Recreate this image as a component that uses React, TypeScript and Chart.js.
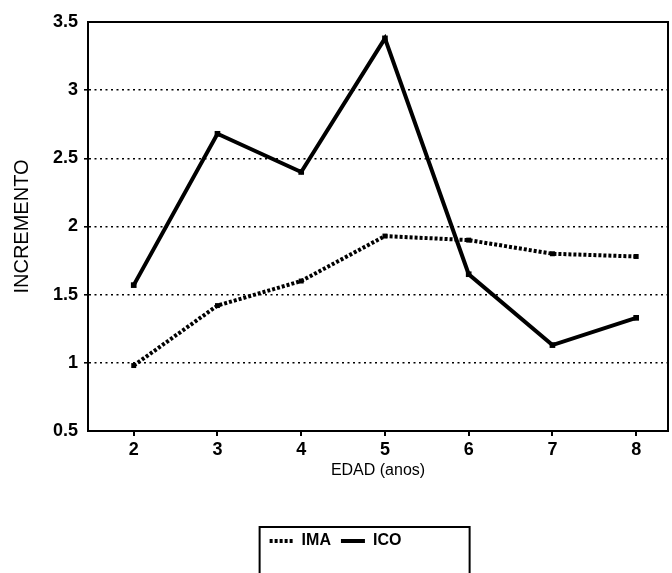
import React, { useEffect, useRef } from "react";
import { Chart, registerables } from "chart.js";

Chart.register(...registerables);

const ages = [2, 3, 4, 5, 6, 7, 8];
const imaValues = [0.98, 1.42, 1.6, 1.93, 1.9, 1.8, 1.78];
const icoValues = [1.57, 2.68, 2.4, 3.38, 1.65, 1.13, 1.33];
const yTickValues = [0.5, 1, 1.5, 2, 2.5, 3, 3.5];
const seriesNames = ["IMA", "ICO"];
const xTitle = "EDAD (anos)";
const yTitle = "INCREMENTO";

const FONT = "'Liberation Sans', Arial, sans-serif";

const framePlugin = {
  id: "frame",
  afterDraw(chart: any) {
    const { ctx, chartArea } = chart;
    ctx.save();
    ctx.strokeStyle = "#000";
    ctx.lineWidth = 2;
    ctx.setLineDash([]);
    ctx.strokeRect(chartArea.left, chartArea.top, chartArea.right - chartArea.left, chartArea.bottom - chartArea.top);
    const boxes = chart.legend && chart.legend.legendHitBoxes;
    if (boxes && boxes.length) {
      let l = Infinity, t = Infinity;
      boxes.forEach((b: any) => {
        l = Math.min(l, b.left);
        t = Math.min(t, b.top);
      });
      ctx.lineWidth = 2;
      ctx.strokeRect(l - 10, t - 6, 210, 200);
    }
    ctx.restore();
  },
};

export default function App() {
  const ref = useRef<HTMLCanvasElement | null>(null);
  useEffect(() => {
    if (!ref.current) return;
    const dashes = [[3, 2], []];
    const chart = new Chart(ref.current, {
      type: "line",
      data: {
        datasets: [
          {
            label: seriesNames[0],
            data: ages.map((a, i) => ({ x: a, y: imaValues[i] })),
            borderColor: "#000",
            backgroundColor: "#000",
            borderWidth: 4,
            borderDash: dashes[0],
            pointStyle: "rect",
            pointRadius: 3.5,
            pointBorderWidth: 0,
            pointBackgroundColor: "#000",
            tension: 0,
          },
          {
            label: seriesNames[1],
            data: ages.map((a, i) => ({ x: a, y: icoValues[i] })),
            borderColor: "#000",
            backgroundColor: "#000",
            borderWidth: 4,
            pointStyle: "rect",
            pointRadius: 4,
            pointBorderWidth: 0,
            pointBackgroundColor: "#000",
            tension: 0,
          },
        ],
      },
      options: {
        responsive: false,
        animation: false,
        devicePixelRatio: 1,
        layout: { padding: { top: 22, right: 1, left: 0, bottom: 14 } },
        plugins: {
          tooltip: { enabled: false },
          legend: {
            position: "bottom",
            labels: {
              usePointStyle: true,
              pointStyleWidth: 24,
              boxHeight: 16,
              padding: 10,
              color: "#000",
              font: { family: FONT, size: 16, weight: "bold" },
              generateLabels: (chart: any) =>
                chart.data.datasets.map((ds: any, i: number) => ({
                  text: ds.label,
                  datasetIndex: i,
                  fillStyle: "#000",
                  strokeStyle: "#000",
                  lineWidth: 4,
                  lineDash: dashes[i],
                  pointStyle: "line",
                  hidden: false,
                  fontColor: "#000",
                })),
            },
          },
        },
        scales: {
          x: {
            type: "linear",
            min: 1.454,
            max: 8.38,
            afterBuildTicks: (scale: any) => {
              scale.ticks = ages.map((v) => ({ value: v }));
            },
            afterFit: (scale: any) => {
              scale.height = 92;
            },
            ticks: {
              color: "#000",
              font: { family: FONT, size: 18, weight: "bold" },
              padding: 3,
              maxRotation: 0,
              autoSkip: false,
              callback: (v: any) => String(v),
            },
            grid: { drawOnChartArea: false, drawTicks: true, tickLength: 5, color: "#000", lineWidth: 2 },
            border: { display: true, color: "#000", width: 2 },
            title: {
              display: true,
              text: xTitle,
              color: "#000",
              font: { family: FONT, size: 16 },
              padding: { top: 0, bottom: 43 },
            },
          },
          y: {
            type: "linear",
            min: 0.5,
            max: 3.5,
            afterBuildTicks: (scale: any) => {
              scale.ticks = yTickValues.map((v) => ({ value: v }));
            },
            afterFit: (scale: any) => {
              scale.width = 88;
            },
            ticks: {
              color: "#000",
              font: { family: FONT, size: 18, weight: "bold" },
              padding: 6,
              callback: (v: any) => String(v),
            },
            grid: {
              drawOnChartArea: true,
              drawTicks: true,
              tickLength: 4,
              lineWidth: 1.6,
              color: (c: any) =>
                c.tick && (c.tick.value === 0.5 || c.tick.value === 3.5) ? "rgba(0,0,0,0)" : "#000",
            },
            border: { display: true, color: "#000", width: 2, dash: [2, 3.5] },
            title: {
              display: true,
              text: yTitle,
              color: "#000",
              font: { family: FONT, size: 20 },
              padding: { top: 10, bottom: 0 },
            },
          },
        },
      },
      plugins: [framePlugin],
    } as any);
    return () => chart.destroy();
  }, []);
  return (
    <div style={{ position: "absolute", left: 0, top: 0, width: 672, height: 573, background: "#fff" }}>
      <canvas ref={ref} width={672} height={573} />
    </div>
  );
}
